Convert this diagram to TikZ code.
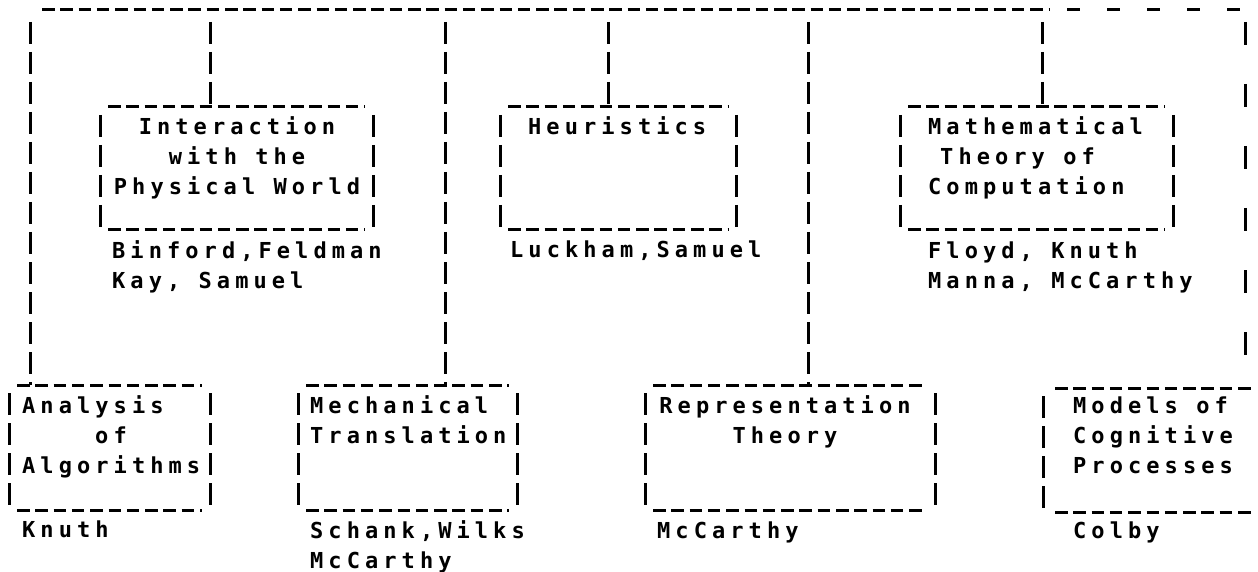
\documentclass[tikz,border=0pt]{standalone}
\usepackage{fontspec}
\usepackage{tikz}
\usetikzlibrary{calc}
\newfontfamily\lp{DejaVu Sans Mono Bold}[LetterSpace=23]

\begin{document}
\begin{tikzpicture}[
    x=1pt, y=-1pt,
    hdash/.style={line width=3pt, dash pattern=on 12.5pt off 5.8pt},
    vdash/.style={line width=3pt, dash pattern=on 22pt off 8pt, dash phase=22pt},
    link/.style={vdash, shorten <=4pt},
    area/.style={inner sep=0pt, outer sep=0pt},
    txt/.style={font=\lp\fontsize{22}{30}\selectfont, align=left, inner sep=0pt, anchor=base west},
]
\useasboundingbox (0,0) rectangle (1258,572);

\node[area, minimum width=273pt, minimum height=123pt] (phys) at (236.5,168.5) {};
\node[area, minimum width=236pt, minimum height=123pt] (heur) at (618,168.5) {};
\node[area, minimum width=273pt, minimum height=123pt] (math) at (1036.5,168.5) {};
\node[area, minimum width=201pt, minimum height=125pt] (anal) at (109.5,447.5) {};
\node[area, minimum width=219pt, minimum height=125pt] (mech) at (407.5,447.5) {};
\node[area, minimum width=290pt, minimum height=125pt] (repr) at (790,447.5) {};
\node[area, minimum width=211pt, minimum height=124pt] (cogn) at (1148.5,450) {};

\node[txt, anchor=base, align=center] (physT) at (237,195) {Interaction\\with the\\Physical World};
\node[txt] (heurT) at (528,135) {Heuristics};
\node[txt] (mathT) at (928,195) {Mathematical\\\hspace*{12pt}Theory of\\Computation};
\node[txt] (analT) at (22,473) {Analysis\\\hspace*{73pt}of\\Algorithms};
\node[txt] (mechT) at (310,443) {Mechanical\\Translation};
\node[txt, anchor=base, align=center] (reprT) at (785,443) {Representation\\Theory};
\node[txt] (cognT) at (1073,473) {Models of\\Cognitive\\Processes};

\node[txt] (physA) at (112,288) {Binford,Feldman\\Kay, Samuel};
\node[txt] (heurA) at (510,258) {Luckham,Samuel};
\node[txt] (mathA) at (928,288) {Floyd, Knuth\\Manna, McCarthy};
\node[txt] (analA) at (22,537) {Knuth};
\node[txt] (mechA) at (310,568) {Schank,Wilks\\McCarthy};
\node[txt] (reprA) at (657,538) {McCarthy};
\node[txt] (cognA) at (1073,538) {Colby};

\foreach \b in {phys,heur,math,anal,mech,repr} {
    \draw[hdash, shorten <=8pt, shorten >=8pt] (\b.north west) -- (\b.north east);
    \draw[hdash, shorten <=8pt, shorten >=8pt] (\b.south west) -- (\b.south east);
    \draw[vdash] (\b.north west) -- (\b.south west);
    \draw[vdash] (\b.north east) -- (\b.south east);
}
\draw[hdash, shorten <=12pt] (cogn.north west) -- (cogn.north east);
\draw[hdash, shorten <=12pt] (cogn.south west) -- (cogn.south east);
\draw[vdash] (cogn.north west) -- (cogn.south west);

\coordinate (tl) at (42,10);
\coordinate (tm) at (1049,10);
\coordinate (tr) at (1245,10);
\coordinate (j1) at (30,10);
\coordinate (j2) at (210,10);
\coordinate (j3) at (445,10);
\coordinate (j4) at (608,10);
\coordinate (j5) at (808,10);
\coordinate (j6) at (1042,10);

\draw[hdash] (tl) -- (tm);
\draw[line width=3pt, dash pattern=on 13pt off 27pt, dash phase=22pt] (tm) -- (tr);

\draw[link] (j1) -- (j1 |- anal.north);
\draw[link] (j2) -- (j2 |- phys.north);
\draw[link] (j3) -- (j3 |- mech.north);
\draw[link] (j4) -- (j4 |- heur.north);
\draw[link] (j5) -- (j5 |- repr.north);
\draw[link] (j6) -- (j6 |- math.north);
\draw[link, dash pattern=on 23pt off 39pt, dash phase=54pt] (tr) -- (tr |- cogn.north);
\end{tikzpicture}
\end{document}
